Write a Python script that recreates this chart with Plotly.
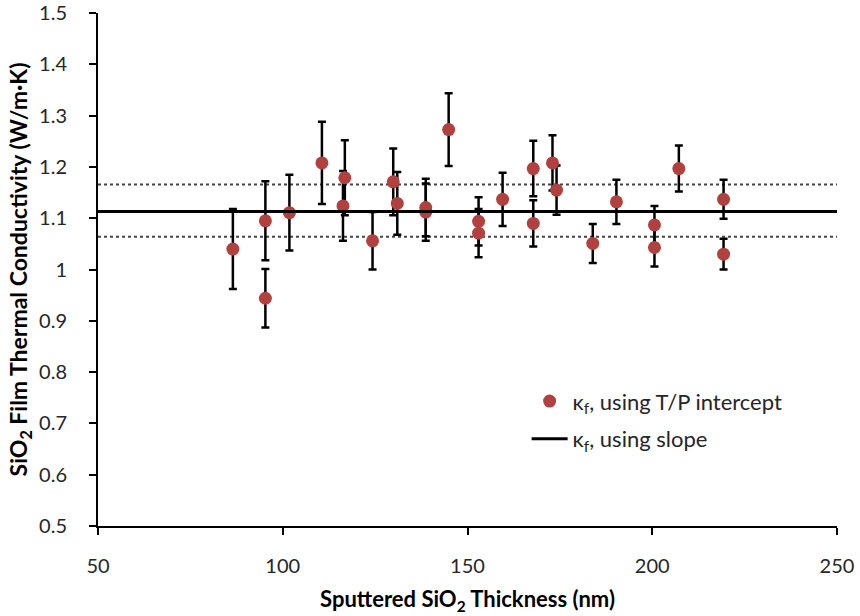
import plotly.graph_objects as go

thickness = [86.5, 95.3, 95.3, 101.8, 110.6, 116.8, 116.3, 124.3, 129.9, 131.0,
             138.7, 138.7, 144.9, 153.0, 153.0, 159.5, 167.8, 167.8, 173.0, 174.1,
             183.9, 190.3, 200.6, 200.6, 207.2, 219.3, 219.3]
kappa_intercept = [1.040, 1.095, 0.944, 1.111, 1.208, 1.179, 1.124, 1.056, 1.171, 1.129,
                   1.121, 1.112, 1.273, 1.094, 1.071, 1.137, 1.197, 1.090, 1.208, 1.155,
                   1.051, 1.132, 1.087, 1.043, 1.197, 1.137, 1.030]
kappa_err = [0.078, 0.077, 0.057, 0.074, 0.080, 0.073, 0.068, 0.056, 0.065, 0.061,
             0.056, 0.056, 0.071, 0.047, 0.047, 0.052, 0.054, 0.045, 0.054, 0.048,
             0.038, 0.043, 0.037, 0.037, 0.045, 0.038, 0.030]

line_x = [50, 250]
kappa_slope = 1.113
kappa_slope_low = 1.064
kappa_slope_high = 1.166

x_ticks = [50, 100, 150, 200, 250]
y_ticks = [0.5, 0.6, 0.7, 0.8, 0.9, 1.0, 1.1, 1.2, 1.3, 1.4, 1.5]
y_ticktext = ["0.5", "0.6", "0.7", "0.8", "0.9", "1", "1.1", "1.2", "1.3", "1.4", "1.5"]

FONT = "Lato"
TXT = "#262626"

fig = go.Figure()

for v in (kappa_slope_low, kappa_slope_high):
    fig.add_trace(go.Scatter(x=line_x, y=[v, v], mode="lines",
                             line=dict(color="#444444", width=2, dash="dot"),
                             showlegend=False, hoverinfo="skip"))

fig.add_trace(go.Scatter(
    x=thickness, y=kappa_intercept, mode="markers",
    name="κ<sub>f</sub>, using T/P intercept", legendgroup="a",
    marker=dict(color="#B0413E", size=13),
    error_y=dict(type="data", array=kappa_err, visible=True,
                 color="black", thickness=2.5, width=4),
))

fig.add_trace(go.Scatter(x=line_x, y=[kappa_slope, kappa_slope], mode="lines",
                         name="κ<sub>f</sub>, using slope", legendgroup="b",
                         line=dict(color="black", width=3)))

fig.update_layout(
    width=860, height=616,
    margin=dict(l=98, r=23, t=13, b=90, autoexpand=False),
    paper_bgcolor="white", plot_bgcolor="white",
    font=dict(family=FONT, size=20, color=TXT),
    legend=dict(x=0.58, y=0.284, xanchor="left", yanchor="top",
                bgcolor="rgba(0,0,0,0)", font=dict(size=22, color=TXT),
                traceorder="grouped", tracegroupgap=6, itemwidth=36),
    showlegend=True,
)
fig.update_xaxes(range=[50, 250], tickvals=x_ticks, showline=True, linecolor="black",
                 linewidth=2, ticks="outside", tickcolor="black", tickwidth=2, ticklen=7,
                 ticklabelstandoff=14, ticklabeloverflow="allow", automargin=False,
                 showgrid=False, zeroline=False,
                 title=dict(text="<b>Sputtered SiO<sub>2</sub> Thickness (nm)</b>",
                            font=dict(size=22, color="black"), standoff=16))
fig.update_yaxes(range=[0.4999, 1.5003], tickvals=y_ticks, ticktext=y_ticktext,
                 showline=True, linecolor="black",
                 linewidth=2, ticks="outside", tickcolor="black", tickwidth=2, ticklen=7,
                 ticklabelstandoff=18, ticklabeloverflow="allow", automargin=False,
                 showgrid=False, zeroline=False,
                 title=dict(text="<b>SiO<sub>2</sub> Film Thermal Conductivity (W/m·K)</b>",
                            font=dict(size=23, color="black"), standoff=5))

fig.write_html("out.html")
